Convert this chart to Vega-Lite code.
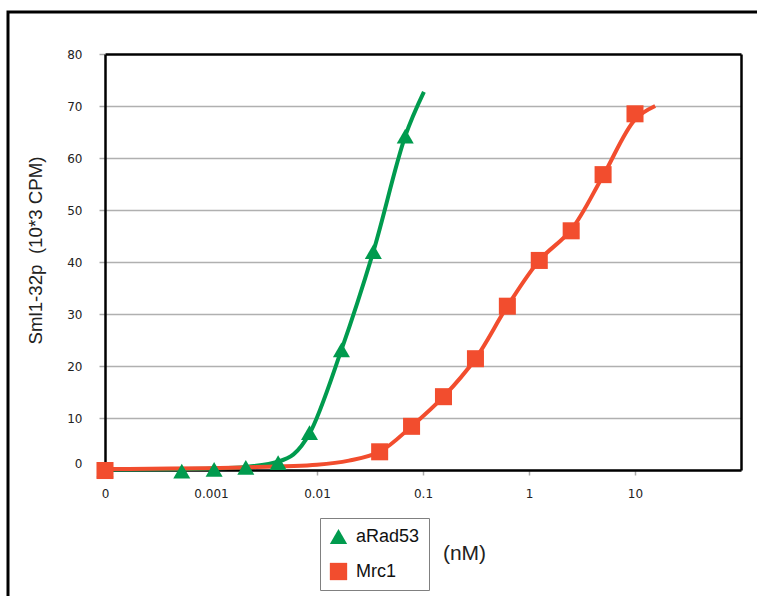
{
  "$schema": "https://vega.github.io/schema/vega-lite/v6.json",
  "width": 753,
  "height": 588,
  "autosize": "none",
  "padding": {"left": 8, "top": 12, "right": -4, "bottom": -4},
  "background": "white",
  "config": {"view": {"stroke": "black", "strokeWidth": 3}},
  "datasets": {
    "curves": [
      {"series": "aRad53", "nM": 0.0001, "cpm": 0.1},
      {"series": "aRad53", "nM": 0.00107, "cpm": 0.3},
      {"series": "aRad53", "nM": 0.00213, "cpm": 0.6},
      {"series": "aRad53", "nM": 0.0043, "cpm": 1.6},
      {"series": "aRad53", "nM": 0.006, "cpm": 3.0},
      {"series": "aRad53", "nM": 0.0085, "cpm": 7.0},
      {"series": "aRad53", "nM": 0.017, "cpm": 23.1},
      {"series": "aRad53", "nM": 0.034, "cpm": 42.0},
      {"series": "aRad53", "nM": 0.068, "cpm": 64.2},
      {"series": "aRad53", "nM": 0.102, "cpm": 72.7},
      {"series": "Mrc1", "nM": 0.0001, "cpm": 0.2},
      {"series": "Mrc1", "nM": 0.002, "cpm": 0.5},
      {"series": "Mrc1", "nM": 0.01, "cpm": 1.0},
      {"series": "Mrc1", "nM": 0.02, "cpm": 1.8},
      {"series": "Mrc1", "nM": 0.039, "cpm": 3.5},
      {"series": "Mrc1", "nM": 0.078, "cpm": 8.4},
      {"series": "Mrc1", "nM": 0.156, "cpm": 14.1},
      {"series": "Mrc1", "nM": 0.3125, "cpm": 21.4},
      {"series": "Mrc1", "nM": 0.625, "cpm": 31.5},
      {"series": "Mrc1", "nM": 1.25, "cpm": 40.3},
      {"series": "Mrc1", "nM": 2.5, "cpm": 46.2},
      {"series": "Mrc1", "nM": 5, "cpm": 56.6},
      {"series": "Mrc1", "nM": 10, "cpm": 67.4},
      {"series": "Mrc1", "nM": 15.5, "cpm": 70.0}
    ],
    "points": [
      {"series": "aRad53", "nM": 0.0001, "cpm": 0},
      {"series": "aRad53", "nM": 0.00053, "cpm": -0.2},
      {"series": "aRad53", "nM": 0.00107, "cpm": 0.1},
      {"series": "aRad53", "nM": 0.00213, "cpm": 0.5},
      {"series": "aRad53", "nM": 0.0043, "cpm": 1.4},
      {"series": "aRad53", "nM": 0.0085, "cpm": 7.2},
      {"series": "aRad53", "nM": 0.017, "cpm": 23.1},
      {"series": "aRad53", "nM": 0.034, "cpm": 42.0},
      {"series": "aRad53", "nM": 0.068, "cpm": 64.2},
      {"series": "Mrc1", "nM": 0.0001, "cpm": -0.1},
      {"series": "Mrc1", "nM": 0.039, "cpm": 3.5},
      {"series": "Mrc1", "nM": 0.078, "cpm": 8.4},
      {"series": "Mrc1", "nM": 0.156, "cpm": 14.1},
      {"series": "Mrc1", "nM": 0.3125, "cpm": 21.4},
      {"series": "Mrc1", "nM": 0.625, "cpm": 31.5},
      {"series": "Mrc1", "nM": 1.25, "cpm": 40.3},
      {"series": "Mrc1", "nM": 2.5, "cpm": 46.0},
      {"series": "Mrc1", "nM": 5, "cpm": 56.8},
      {"series": "Mrc1", "nM": 10, "cpm": 68.5}
    ]
  },
  "resolve": {"axis": {"y": "independent"}},
  "encoding": {
    "x": {
      "field": "nM",
      "type": "quantitative",
      "scale": {"type": "log", "domain": [0.0001, 100], "range": [97, 733], "nice": false, "zero": false},
      "axis": {
        "values": [0.0001, 0.001, 0.01, 0.1, 1, 10],
        "labelExpr": "datum.value < 0.0005 ? '0' : toString(datum.value)",
        "offset": -130,
        "domainColor": "black",
        "domainWidth": 2.5,
        "tickColor": "#aaaaaa",
        "tickSize": 5,
        "tickWidth": 1.5,
        "grid": false,
        "labelFont": "DejaVu Sans",
        "labelFontSize": 12,
        "labelColor": "#222222",
        "labelPadding": 13,
        "labelFlush": false,
        "labelOverlap": false,
        "title": "(nM)",
        "titleX": 456,
        "titleY": 83,
        "titleFont": "Liberation Sans",
        "titleFontSize": 21,
        "titleFontWeight": "normal",
        "titleColor": "#222222",
        "titleBaseline": "middle",
        "titleAlign": "center"
      }
    }
  },
  "layer": [
    {
      "data": {"name": "curves"},
      "transform": [{"filter": "datum.series == 'aRad53'"}],
      "mark": {"type": "line", "interpolate": "catmull-rom", "strokeWidth": 4, "color": "#009b4e", "clip": false},
      "encoding": {
        "y": {
          "field": "cpm",
          "type": "quantitative",
          "scale": {"domain": [0, 80], "range": [458, 42], "nice": false, "zero": false},
          "axis": {
            "orient": "left",
            "values": [0, 10, 20, 30, 40, 50, 60, 70, 80],
            "offset": -97,
            "domainColor": "black",
            "domainWidth": 2.5,
            "tickColor": "#aaaaaa",
            "tickSize": 6,
            "tickWidth": 1.5,
            "grid": true,
            "gridColor": {"condition": {"test": "datum.value == 80", "value": "black"}, "value": "#b0b0b0"},
            "gridWidth": {"condition": {"test": "datum.value == 80", "value": 2.5}, "value": 1.5},
            "labelFont": "DejaVu Sans",
            "labelFontSize": 12,
            "labelColor": "#222222",
            "labelPadding": 17,
            "labelFlush": false,
            "labelOverlap": false,
            "labelOffset": {"condition": {"test": "datum.value == 0", "value": -7}, "value": 0},
            "title": "Sml1-32p\u00a0 (10*3 CPM)",
            "titleX": -70,
            "titleY": 238,
            "titleAngle": -90,
            "titleFont": "Liberation Sans",
            "titleFontSize": 18.7,
            "titleFontWeight": "normal",
            "titleColor": "#222222",
            "titleBaseline": "middle",
            "titleAlign": "center"
          }
        }
      }
    },
    {
      "data": {"name": "curves"},
      "transform": [{"filter": "datum.series == 'Mrc1'"}],
      "mark": {"type": "line", "interpolate": "catmull-rom", "strokeWidth": 4, "color": "#f24d2e", "clip": false},
      "encoding": {
        "y": {
          "field": "cpm",
          "type": "quantitative",
          "axis": {
            "orient": "right",
            "offset": -20,
            "domainColor": "black",
            "domainWidth": 2.5,
            "ticks": false,
            "labels": false,
            "grid": false,
            "title": null
          }
        }
      }
    },
    {
      "data": {"name": "points"},
      "mark": {"type": "point", "filled": true, "size": 290, "opacity": 1, "strokeWidth": 0},
      "encoding": {
        "y": {"field": "cpm", "type": "quantitative", "axis": null},
        "color": {
          "field": "series",
          "type": "nominal",
          "scale": {"domain": ["aRad53", "Mrc1"], "range": ["#009b4e", "#f24d2e"]},
          "legend": {
            "orient": "none",
            "legendX": 312,
            "legendY": 506,
            "title": null,
            "labelFont": "Liberation Sans",
            "labelFontSize": 18,
            "labelColor": "#111111",
            "symbolSize": 300,
            "padding": 9,
            "rowPadding": 16,
            "strokeColor": "#808080",
            "fillColor": "white",
            "labelOffset": 8
          }
        },
        "shape": {
          "field": "series",
          "type": "nominal",
          "scale": {"domain": ["aRad53", "Mrc1"], "range": ["triangle-up", "square"]}
        }
      }
    }
  ]
}
